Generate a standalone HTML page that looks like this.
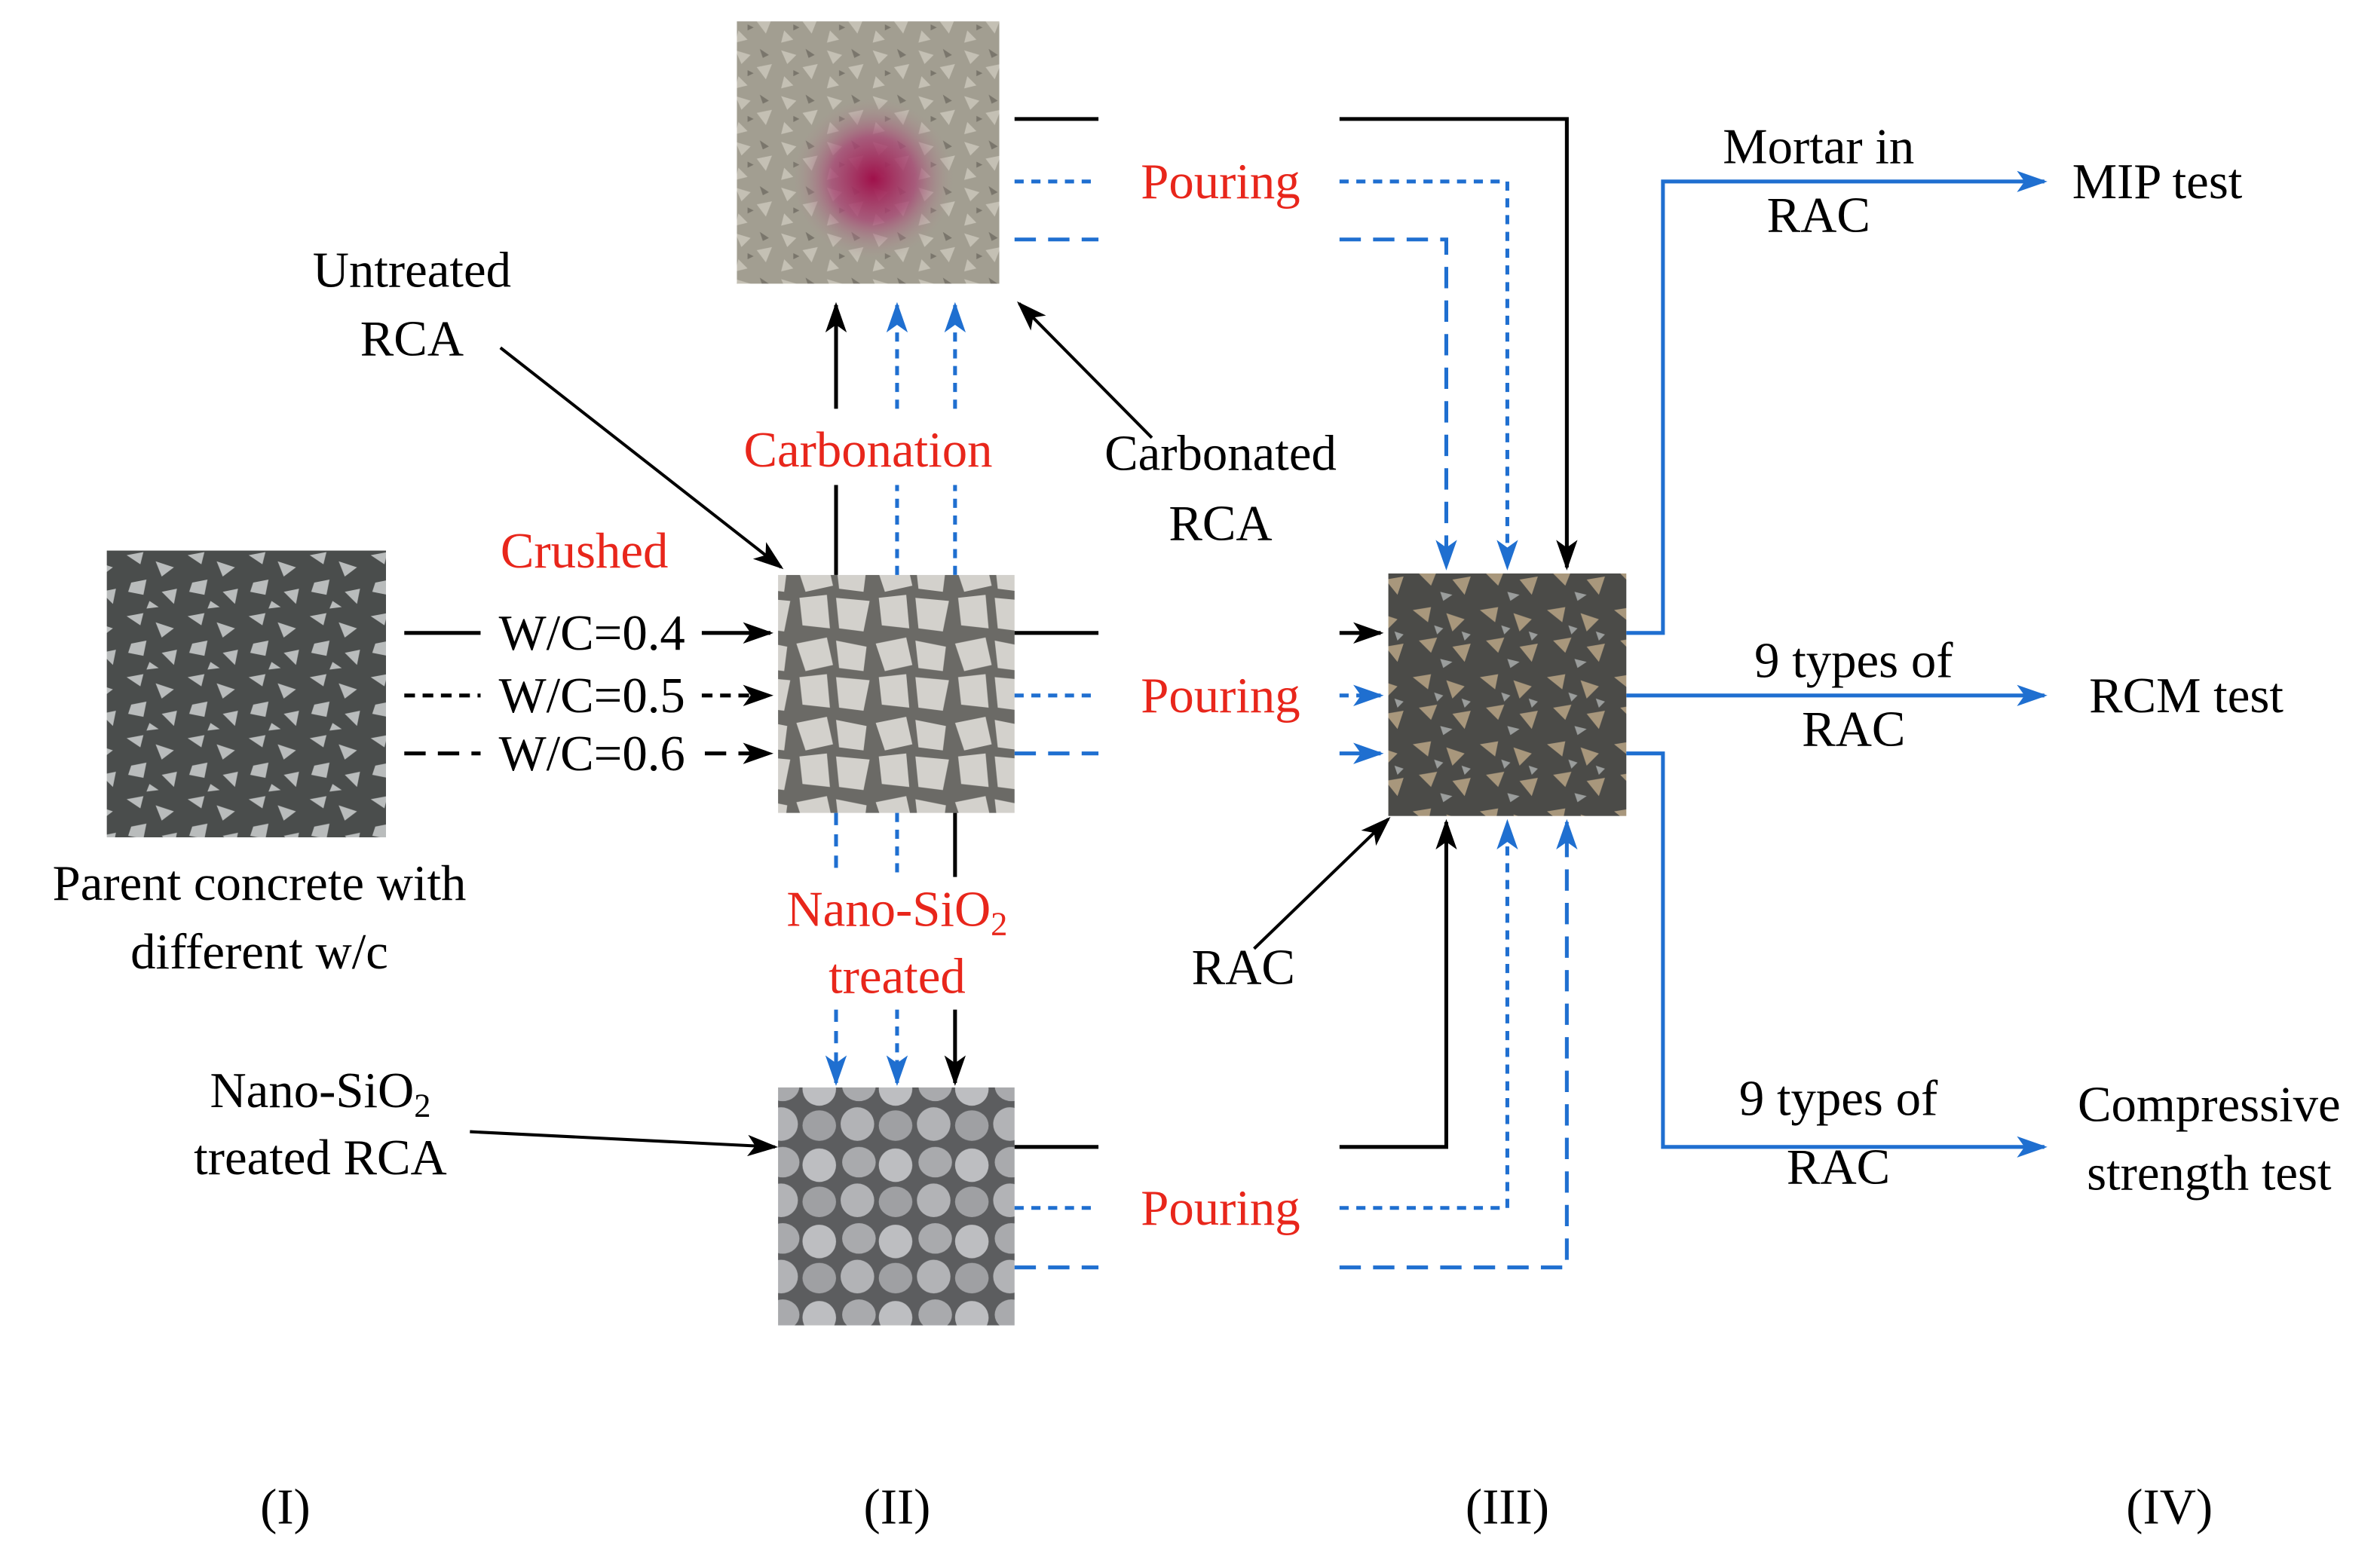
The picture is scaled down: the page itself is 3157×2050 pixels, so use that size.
<!DOCTYPE html>
<html><head><meta charset="utf-8"><style>html,body{margin:0;padding:0;background:#fff}svg{display:block}text{font-family:"Liberation Serif","Times New Roman",serif}</style></head><body>
<svg width="3157" height="2050" viewBox="0 0 1560 1013" preserveAspectRatio="none" xmlns="http://www.w3.org/2000/svg" style="font-family:'Liberation Serif',serif" font-size="33">
<defs>
<marker id="ak2" markerWidth="20" markerHeight="14" refX="18" refY="7" orient="auto" markerUnits="userSpaceOnUse"><path d="M0,0 L20,7 L0,14 L5,7 Z" fill="#000"/></marker>
<marker id="ab2" markerWidth="20" markerHeight="14" refX="18" refY="7" orient="auto" markerUnits="userSpaceOnUse"><path d="M0,0 L20,7 L0,14 L5,7 Z" fill="#1f6fd0"/></marker>
<pattern id="pc" width="40" height="40" patternUnits="userSpaceOnUse"><rect width="40" height="40" fill="#4a4d4c"/><path d="M3,4 L14,2 L12,10 Z M22,8 L34,12 L26,18 Z M6,22 L16,20 L14,30 L4,28Z M26,28 L36,26 L34,36 Z M18,34 L24,38 L16,39Z" fill="#b9bcbc"/></pattern>
<pattern id="rac" width="44" height="44" patternUnits="userSpaceOnUse"><rect width="44" height="44" fill="#4b4b48"/><path d="M2,4 L14,2 L12,12 Z M24,6 L36,10 L28,18 Z M6,24 L18,22 L14,32 Z M28,28 L40,26 L36,38 Z" fill="#a8977c"/><path d="M16,14 L22,16 L18,20Z M34,18 L40,20 L36,24Z M20,36 L28,38 L22,42Z" fill="#9a9d9c"/></pattern>
<pattern id="rca" width="52" height="52" patternUnits="userSpaceOnUse"><rect width="52" height="52" fill="#6b6a66"/><path d="M2,6 L22,2 L26,20 L8,24 Z M28,4 L48,8 L46,24 L30,22 Z M4,28 L22,26 L24,48 L6,46 Z M28,28 L50,30 L46,50 L30,48 Z" fill="#d3d1cc"/></pattern>
<pattern id="nano" width="50" height="50" patternUnits="userSpaceOnUse"><rect width="50" height="50" fill="#5c5d5f"/><ellipse cx="13" cy="12" rx="11" ry="10" fill="#a9aaad"/><ellipse cx="37" cy="14" rx="11" ry="11" fill="#bdbec1"/><ellipse cx="12" cy="37" rx="11" ry="11" fill="#b2b3b6"/><ellipse cx="37" cy="38" rx="11" ry="10" fill="#9fa0a3"/></pattern>
<pattern id="rock" width="30" height="30" patternUnits="userSpaceOnUse"><rect width="30" height="30" fill="#a29e91"/><path d="M2,3 L12,6 L6,12Z M16,14 L26,12 L22,22Z M4,20 L10,26 L2,28Z" fill="#c4c0b4"/><path d="M18,2 L24,6 L20,8Z M10,16 L14,18 L10,20Z" fill="#7a766c"/></pattern>
<radialGradient id="pink" cx="0.52" cy="0.6" r="0.32"><stop offset="0" stop-color="#a0104a"/><stop offset="0.5" stop-color="#a84a75" stop-opacity="0.8"/><stop offset="1" stop-color="#a7a295" stop-opacity="0"/></radialGradient>
</defs>
<rect x="483" y="14" width="172" height="172" fill="url(#rock)"/>
<rect x="483" y="14" width="172" height="172" fill="url(#pink)"/>
<rect x="70" y="361" width="183" height="188" fill="url(#pc)"/>
<rect x="510" y="377" width="155" height="156" fill="url(#rca)"/>
<rect x="510" y="713" width="155" height="156" fill="url(#nano)"/>
<rect x="910" y="376" width="156" height="159" fill="url(#rac)"/>

<g stroke-width="2.5" fill="none">
<path d="M665,78 H720 M878,78 H1027 V372" stroke="#000" marker-end="url(#ak2)"/>
<path d="M665,119 H720 M878,119 H988 V372" stroke="#1f6fd0" stroke-dasharray="6,5" marker-end="url(#ab2)"/>
<path d="M665,157 H720 M878,157 H948 V372" stroke="#1f6fd0" stroke-dasharray="14,8" marker-end="url(#ab2)"/>
<path d="M665,415 H720 M878,415 H905" stroke="#000" marker-end="url(#ak2)"/>
<path d="M665,456 H720 M878,456 H905" stroke="#1f6fd0" stroke-dasharray="6,5" marker-end="url(#ab2)"/>
<path d="M665,494 H720 M878,494 H905" stroke="#1f6fd0" stroke-dasharray="14,8" marker-end="url(#ab2)"/>
<path d="M665,752 H720 M878,752 H948 V539" stroke="#000" marker-end="url(#ak2)"/>
<path d="M665,792 H720 M878,792 H988 V539" stroke="#1f6fd0" stroke-dasharray="6,5" marker-end="url(#ab2)"/>
<path d="M665,831 H720 M878,831 H1027 V539" stroke="#1f6fd0" stroke-dasharray="14,8" marker-end="url(#ab2)"/>
<path d="M548,377 V318 M548,268 V200" stroke="#000" marker-end="url(#ak2)"/>
<path d="M588,377 V318 M588,268 V200" stroke="#1f6fd0" stroke-dasharray="6,5" marker-end="url(#ab2)"/>
<path d="M626,377 V318 M626,268 V200" stroke="#1f6fd0" stroke-dasharray="6,5" marker-end="url(#ab2)"/>
<path d="M548,533 V575 M548,662 V710" stroke="#1f6fd0" stroke-dasharray="8,6" marker-end="url(#ab2)"/>
<path d="M588,533 V575 M588,662 V710" stroke="#1f6fd0" stroke-dasharray="6,5" marker-end="url(#ab2)"/>
<path d="M626,533 V575 M626,662 V710" stroke="#000" marker-end="url(#ak2)"/>
<path d="M265,415 H315" stroke="#000"/><path d="M460,415 H505" stroke="#000" marker-end="url(#ak2)"/>
<path d="M265,456 H315" stroke="#000" stroke-dasharray="7,5"/><path d="M460,456 H505" stroke="#000" stroke-dasharray="7,5" marker-end="url(#ak2)"/>
<path d="M265,494 H315" stroke="#000" stroke-dasharray="14,8"/><path d="M462,494 H505" stroke="#000" stroke-dasharray="14,8" marker-end="url(#ak2)"/>
<path d="M1066,415 H1090 V119 H1340" stroke="#1f6fd0" marker-end="url(#ab2)"/>
<path d="M1066,456 H1340" stroke="#1f6fd0" marker-end="url(#ab2)"/>
<path d="M1066,494 H1090 V752 H1340" stroke="#1f6fd0" marker-end="url(#ab2)"/>
<path d="M328,228 L512,372" stroke="#000" stroke-width="2" marker-end="url(#ak2)"/>
<path d="M755,287 L668,199" stroke="#000" stroke-width="2" marker-end="url(#ak2)"/>
<path d="M822,622 L910,537" stroke="#000" stroke-width="2" marker-end="url(#ak2)"/>
<path d="M308,742 L508,752" stroke="#000" stroke-width="2" marker-end="url(#ak2)"/>
</g>

<g text-anchor="middle" fill="#000">
<text x="270" y="188">Untreated</text><text x="270" y="233">RCA</text>
<text x="800" y="308">Carbonated</text><text x="800" y="354">RCA</text>
<text x="388" y="426">W/C=0.4</text><text x="388" y="467">W/C=0.5</text><text x="388" y="505">W/C=0.6</text>
<text x="170" y="590">Parent concrete with</text><text x="170" y="635">different w/c</text>
<text x="210" y="726">Nano-SiO<tspan font-size="22" dy="6">2</tspan></text><text x="210" y="770">treated  RCA</text>
<text x="815" y="645">RAC</text>
<text x="1192" y="107">Mortar in</text><text x="1192" y="152">RAC</text>
<text x="1414" y="130">MIP test</text>
<text x="1215" y="444">9 types of</text><text x="1215" y="489">RAC</text>
<text x="1433" y="467">RCM test</text>
<text x="1205" y="731">9 types of</text><text x="1205" y="776">RAC</text>
<text x="1448" y="735">Compressive</text><text x="1448" y="780">strength test</text>
<text x="187" y="999">(I)</text><text x="588" y="999">(II)</text><text x="988" y="999">(III)</text><text x="1422" y="999">(IV)</text>
</g>
<g text-anchor="middle" fill="#e8261b">
<text x="800" y="130">Pouring</text><text x="800" y="467">Pouring</text><text x="800" y="803">Pouring</text>
<text x="383" y="372">Crushed</text>
<text x="569" y="306">Carbonation</text>
<text x="588" y="607">Nano-SiO<tspan font-size="22" dy="6">2</tspan></text><text x="588" y="651">treated</text>
</g>
</svg>
</body></html>
